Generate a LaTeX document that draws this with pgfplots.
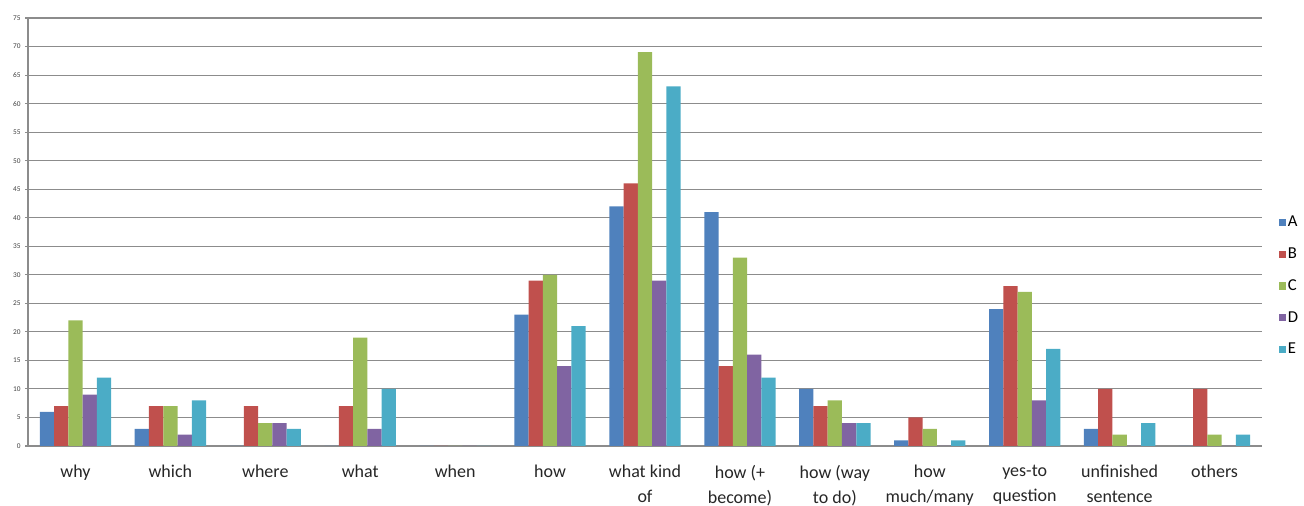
\documentclass[border=0pt]{standalone}
\usepackage{fontspec}
\setmainfont{Carlito}
\usepackage{pgfplots}
\pgfplotsset{compat=1.18}
\definecolor{sA}{HTML}{4F81BD}
\definecolor{sB}{HTML}{C0504D}
\definecolor{sC}{HTML}{9BBB59}
\definecolor{sD}{HTML}{8064A2}
\definecolor{sE}{HTML}{4BACC6}
\definecolor{gridc}{HTML}{8C8C8C}
\begin{document}
\begin{tikzpicture}
\useasboundingbox (0,0) rectangle (978pt,379.5pt);
\begin{axis}[
  at={(21pt,45pt)}, anchor=south west,
  scale only axis, width=925.5pt, height=321pt,
  ybar=0pt, bar width=10.7pt,
  xmin=-0.5, xmax=12.5, ymin=0, ymax=75,
  ytick={0,5,...,75},
  xtick={0,...,12},
  xticklabels={why,which,where,what,when,how,{what kind\\of},{how (+\\become)},{how (way\\to do)},{how\\much/many},{yes-to\\question},{unfinished\\sentence},others},
  xticklabel style={align=center, font={\fontsize{13.5}{18.75}\selectfont}, text=black!85, anchor=north, yshift=-9pt},
  yticklabel style={font={\fontsize{5.5}{6}\selectfont}, text=black!75},
  /pgf/number format/assume math mode=true,
  x tick style={draw=none},
  extra x ticks={-0.5,0.5,...,12.5},
  extra x tick labels={},
  extra x tick style={tick style={draw=gridc, line width=0.8pt}, major tick length=4pt, grid=none},
  y tick style={draw=gridc, line width=0.8pt},
  major tick length=4pt,
  tick align=outside,
  axis lines=left,
  axis line style={draw=gridc, line width=0.8pt, -},
  ymajorgrids=true,
  grid style={draw=gridc, line width=0.8pt},
  legend style={at={(1.0105,0.3738)}, anchor=west, draw=none, fill=none,
    font={\fontsize{12.5}{14}\selectfont}, row sep=0pt,
    nodes={inner sep=1pt, minimum height=23.8pt}},
  legend cell align=left,
  legend image code/.code={\fill[#1] (0pt,-2.7pt) rectangle (5.4pt,2.7pt);},
  every axis plot/.append style={draw=none},
]
\addplot[fill=sA] coordinates {(0,6)(1,3)(2,0)(3,0)(4,0)(5,23)(6,42)(7,41)(8,10)(9,1)(10,24)(11,3)(12,0)};
\addplot[fill=sB] coordinates {(0,7)(1,7)(2,7)(3,7)(4,0)(5,29)(6,46)(7,14)(8,7)(9,5)(10,28)(11,10)(12,10)};
\addplot[fill=sC] coordinates {(0,22)(1,7)(2,4)(3,19)(4,0)(5,30)(6,69)(7,33)(8,8)(9,3)(10,27)(11,2)(12,2)};
\addplot[fill=sD] coordinates {(0,9)(1,2)(2,4)(3,3)(4,0)(5,14)(6,29)(7,16)(8,4)(9,0)(10,8)(11,0)(12,0)};
\addplot[fill=sE] coordinates {(0,12)(1,8)(2,3)(3,10)(4,0)(5,21)(6,63)(7,12)(8,4)(9,1)(10,17)(11,4)(12,2)};
\legend{A,B,C,D,E}
\end{axis}
\end{tikzpicture}
\end{document}
